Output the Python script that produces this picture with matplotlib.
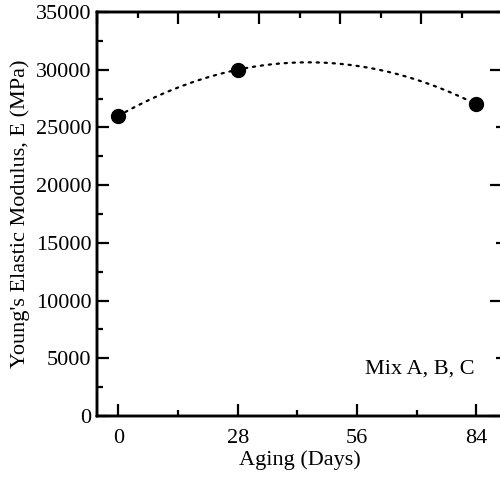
import numpy as np
import matplotlib
matplotlib.use("Agg")
import matplotlib.pyplot as plt
from matplotlib.ticker import MultipleLocator, NullFormatter

plt.rcParams["font.family"] = ["Liberation Serif", "DejaVu Serif"]

# aging time and measured modulus
days = [0, 28, 84]
modulus = [26000, 30000, 27000]

xticks = [0, 28, 56, 84]
label_note = "Mix A, B, C"
FS = 16


def style_ticks(a, major_len=8.5, minor_len=4.5, width=1.6):
    a.tick_params(which="major", direction="in", length=major_len, width=width)
    a.tick_params(which="minor", direction="in", length=minor_len, width=width)


fig = plt.figure(figsize=(5.0, 4.78), dpi=100)
ax = fig.add_axes([0.194, 0.1297, 0.81, 0.8452])

# second-order trend through the points
coef = np.polyfit(days, modulus, 2)
xx = np.linspace(min(days), max(days), 200)
ax.plot(xx, np.polyval(coef, xx), color="black", lw=1.6, ls=(0, (1, 2.6)),
        dash_capstyle="round")
ax.plot(days, modulus, "o", color="black", ms=10, zorder=3)

ax.set_xlim(-5, 90)
ax.set_ylim(0, 35000)
ax.xaxis.set_major_locator(MultipleLocator(28))
ax.xaxis.set_minor_locator(MultipleLocator(14))
ax.yaxis.set_major_locator(MultipleLocator(5000))
ax.yaxis.set_minor_locator(MultipleLocator(2500))
ax.set_xticks(xticks)
style_ticks(ax)
ax.tick_params(axis="x", which="major", pad=9, labelsize=FS)
ax.tick_params(axis="y", which="major", pad=4, labelsize=FS)

for s in ax.spines.values():
    s.set_linewidth(1.7)

ax.set_xlabel("Aging (Days)", fontsize=FS, labelpad=2)
ax.set_ylabel("Young's Elastic Modulus, E (MPa)", fontsize=FS, labelpad=4)
ax.text(0.933, 0.116, label_note, transform=ax.transAxes, fontsize=FS,
        ha="right", va="center")

# independent top/right scales, ticks only
top = ax.twiny()
top.set_xlim(0, 100)
top.xaxis.set_major_locator(MultipleLocator(20))
top.xaxis.set_minor_locator(MultipleLocator(10))
top.xaxis.set_major_formatter(NullFormatter())
style_ticks(top)

right = ax.twinx()
right.set_ylim(0, 35000)
right.yaxis.set_major_locator(MultipleLocator(10000))
right.yaxis.set_minor_locator(MultipleLocator(5000))
right.yaxis.set_major_formatter(NullFormatter())
style_ticks(right)

for a in (top, right):
    for s in a.spines.values():
        s.set_linewidth(1.7)

fig.savefig("out.png", dpi=100)
